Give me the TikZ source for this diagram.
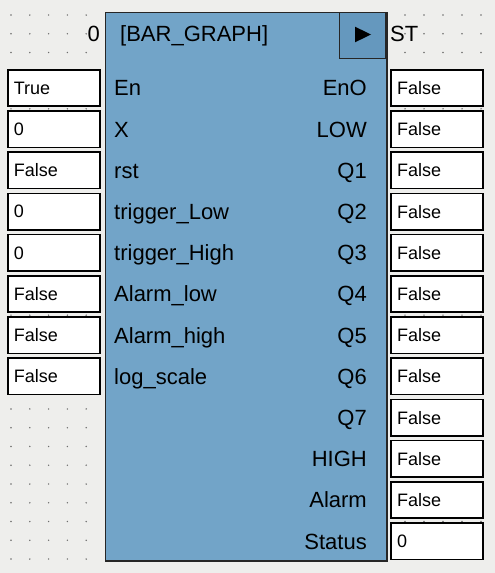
\documentclass[tikz,border=0pt]{standalone}
\usepackage{fontspec}
\setmainfont{Liberation Sans}
\definecolor{bggray}{RGB}{238,238,236}
\definecolor{dotgray}{RGB}{110,110,110}
\definecolor{blockblue}{RGB}{114,164,200}
\definecolor{runblue}{RGB}{101,152,190}

\begin{document}
\begin{tikzpicture}[x=1pt,y=-1pt,
	valbox/.style={draw=black,line width=1.6pt,fill=white,minimum width=92pt,minimum height=36.4pt,inner sep=0pt,text width=80pt,align=left,font=\fontsize{18}{20}\selectfont},
	pinlabel/.style={inner sep=0pt,text height=15.8pt,text depth=0pt,font=\fontsize{22}{26}\selectfont}]
	%BACKGROUND
	\fill[bggray] (0,0) rectangle (495,573);
	\useasboundingbox (0,0) rectangle (495,573);
	\foreach \i in {0,...,4} \foreach \j in {0,...,29} \fill[dotgray] (11+18.8*\i,15+18.76*\j) circle (0.8);
	\foreach \i in {0,...,4} \foreach \j in {0,...,29} \fill[dotgray] (405+19*\i,15+18.76*\j) circle (0.8);
	
	%BLOCK
	\node[draw=black!85,line width=1.4pt,fill=blockblue,minimum width=281.6pt,minimum height=548.6pt,inner sep=0pt,anchor=north west] (block) at (104.7,11.7) {};
	\node[draw=black!85,line width=1.4pt,fill=runblue,minimum size=46.3pt,inner sep=0pt,anchor=north east] (run) at (386.3,11.7) {};
	\fill (355,26.7)--(371,34.5)--(355,42.3)--cycle;
	\node[pinlabel,anchor=west] (title) at (120,33.5) {[BAR\_GRAPH]};
	\node[pinlabel,anchor=east] (zero) at (100,33.5) {0};
	\node[pinlabel,anchor=west] (st) at (390,33.5) {ST};
	
	%INPUTS
	\foreach \val [count=\i from 0] in {True,0,False,0,0,False,False,False}
		\node[valbox] (in\i) at (53.8,88+41.2*\i) {\val};
	\foreach \lab [count=\i from 0] in {En,X,rst,trigger\_Low,trigger\_High,Alarm\_low,Alarm\_high,log\_scale}
		\node[pinlabel,anchor=west] (inlab\i) at (114,88+41.2*\i) {\lab};
	
	%OUTPUTS
	\foreach \val [count=\i from 0] in {False,False,False,False,False,False,False,False,False,False,False,0}
		\node[valbox] (out\i) at (437,88+41.2*\i) {\val};
	\foreach \lab [count=\i from 0] in {EnO,LOW,Q1,Q2,Q3,Q4,Q5,Q6,Q7,HIGH,Alarm,Status}
		\node[pinlabel,anchor=east] (outlab\i) at (367,88+41.2*\i) {\lab};
\end{tikzpicture}
\end{document}
